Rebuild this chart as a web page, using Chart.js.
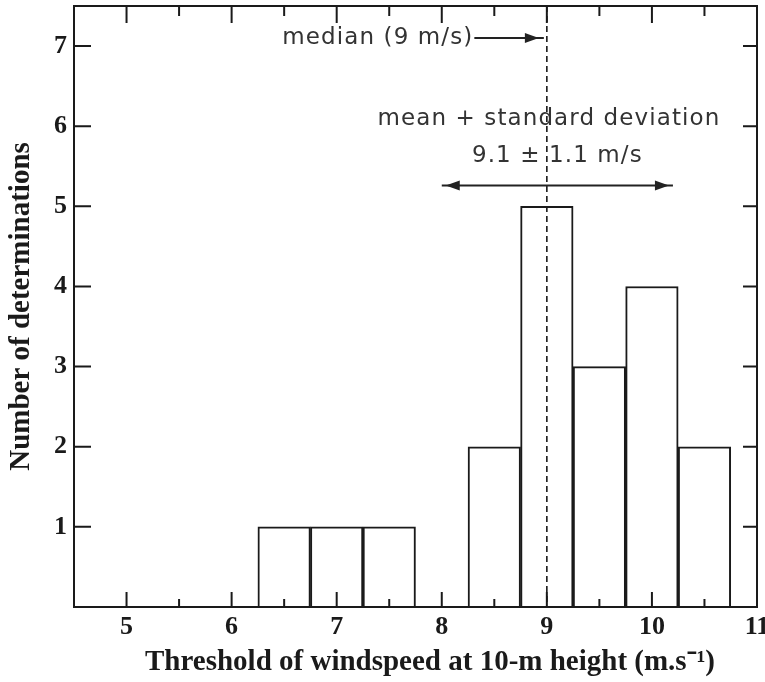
<!DOCTYPE html>
<html><head><meta charset="utf-8">
<script src="https://cdn.jsdelivr.net/npm/chart.js@4/dist/chart.umd.min.js"></script>
<style>html,body{margin:0;padding:0;background:#fff}#wrap{width:765px;height:682px}</style>
</head><body><div id="wrap"><canvas id="c" width="765" height="682"></canvas></div>
<script>
// ---- data ----
const binCenters = [6.5, 7.0, 7.5, 8.5, 9.0, 9.5, 10.0, 10.5];
const counts = [1, 1, 1, 2, 5, 3, 4, 2];
const xTickValues = [5, 6, 7, 8, 9, 10, 11];
const xMinorTicks = [5.5, 6.5, 7.5, 8.5, 9.5, 10.5];
const yTickValues = [1, 2, 3, 4, 5, 6, 7];
const medianValue = 9;
const meanValue = 9.1;
const stdValue = 1.1;
const xTitle = '    Threshold of windspeed at 10-m height (m.s\u207B\u00B9)';
const yTitle = 'Number of determinations';
const medianLabel = 'median (9 m/s)';
const meanLabel1 = 'mean + standard deviation';
const meanLabel2 = '9.1 \u00B1 1.1 m/s';

const INK = '#1a1a1a';
const SERIF = '"Liberation Serif", "Times New Roman", serif';
const SANS = '"DejaVu Sans", sans-serif';

const decor = {
  id: 'decor',
  afterDatasetsDraw(chart) {
    const ctx = chart.ctx, a = chart.chartArea;
    const xs = chart.scales.x, ys = chart.scales.y;
    ctx.save();
    ctx.strokeStyle = INK; ctx.lineWidth = 2;
    ctx.strokeRect(a.left, a.top, a.right - a.left, a.bottom - a.top);
    ctx.beginPath();
    xTickValues.forEach(v => { const p = xs.getPixelForValue(v); if (p < a.right - 2) { ctx.moveTo(p, a.bottom); ctx.lineTo(p, a.bottom - 15); ctx.moveTo(p, a.top); ctx.lineTo(p, a.top + 17); } });
    xMinorTicks.forEach(v => { const p = xs.getPixelForValue(v); ctx.moveTo(p, a.bottom); ctx.lineTo(p, a.bottom - 8); ctx.moveTo(p, a.top); ctx.lineTo(p, a.top + 10); });
    yTickValues.forEach(v => { const p = ys.getPixelForValue(v); ctx.moveTo(a.left, p); ctx.lineTo(a.left + 17, p); ctx.moveTo(a.right, p); ctx.lineTo(a.right - 14, p); });
    ctx.stroke();
    // median dashed line
    const mx = xs.getPixelForValue(medianValue);
    ctx.setLineDash([6, 4]); ctx.lineWidth = 1.6;
    ctx.beginPath(); ctx.moveTo(mx, a.top); ctx.lineTo(mx, a.bottom); ctx.stroke();
    ctx.setLineDash([]);
    // texts
    ctx.fillStyle = '#333'; ctx.font = '23px ' + SANS; ctx.textBaseline = 'middle';
    ctx.letterSpacing = '1.1px';
    const my = ys.getPixelForValue(7.1);
    ctx.textAlign = 'right';
    ctx.fillText(medianLabel, xs.getPixelForValue(8.3), my);
    ctx.textAlign = 'center';
    ctx.fillText(meanLabel1, xs.getPixelForValue(9.02), ys.getPixelForValue(6.09));
    ctx.fillText(meanLabel2, xs.getPixelForValue(meanValue), ys.getPixelForValue(5.63));
    ctx.letterSpacing = '0px';
    // arrows
    ctx.strokeStyle = '#222'; ctx.fillStyle = '#222'; ctx.lineWidth = 2;
    const head = (x, y, dir) => { ctx.beginPath(); ctx.moveTo(x, y); ctx.lineTo(x - dir * 14, y - 5); ctx.lineTo(x - dir * 14, y + 5); ctx.closePath(); ctx.fill(); };
    const x0 = xs.getPixelForValue(8.31);
    ctx.beginPath(); ctx.moveTo(x0, my); ctx.lineTo(mx - 3, my); ctx.stroke();
    head(mx - 8, my, 1);
    const ay = ys.getPixelForValue(5.26);
    const l = xs.getPixelForValue(meanValue - stdValue), r = xs.getPixelForValue(meanValue + stdValue);
    ctx.beginPath(); ctx.moveTo(l, ay); ctx.lineTo(r, ay); ctx.stroke();
    head(l + 4, ay, -1); head(r - 4, ay, 1);
    ctx.restore();
  }
};

new Chart(document.getElementById('c'), {
  type: 'bar',
  data: {
    datasets: [{
      data: binCenters.map((x, i) => ({ x: x, y: counts[i] })),
      backgroundColor: '#ffffff',
      borderColor: INK,
      borderWidth: 2,
      borderSkipped: 'start',
      barPercentage: 1,
      categoryPercentage: 1
    }]
  },
  options: {
    responsive: false, animation: false, devicePixelRatio: 1,
    layout: { padding: { top: 6, right: 8, left: 0, bottom: 0 } },
    plugins: { legend: { display: false }, tooltip: { enabled: false } },
    scales: {
      x: {
        type: 'linear', position: 'bottom', min: 4.5, max: 11, offset: false,
        grid: { display: false, drawTicks: false },
        border: { display: false },
        afterBuildTicks: s => { s.ticks = xTickValues.map(v => ({ value: v })); },
        afterFit: s => { s.height = 75; s.paddingLeft = 0; s.paddingRight = 0; },
        ticks: { color: INK, font: { family: SERIF, size: 26, weight: 'bold' }, padding: 5, maxRotation: 0, autoSkip: false },
        title: { display: true, text: xTitle, color: INK, font: { family: SERIF, size: 29, weight: 'bold' }, padding: { top: 0, bottom: 2 } }
      },
      y: {
        type: 'linear', min: 0, max: 7.5,
        grid: { display: false, drawTicks: false },
        border: { display: false },
        afterBuildTicks: s => { s.ticks = yTickValues.map(v => ({ value: v })); },
        afterFit: s => { s.width = 74; s.paddingTop = 0; s.paddingBottom = 0; },
        ticks: { color: INK, font: { family: SERIF, size: 26, weight: 'bold' }, padding: 7 },
        title: { display: true, text: yTitle, color: INK, font: { family: SERIF, size: 29, weight: 'bold' }, padding: { top: 4, bottom: 0 } }
      }
    }
  },
  plugins: [decor]
});
</script>
</body></html>
